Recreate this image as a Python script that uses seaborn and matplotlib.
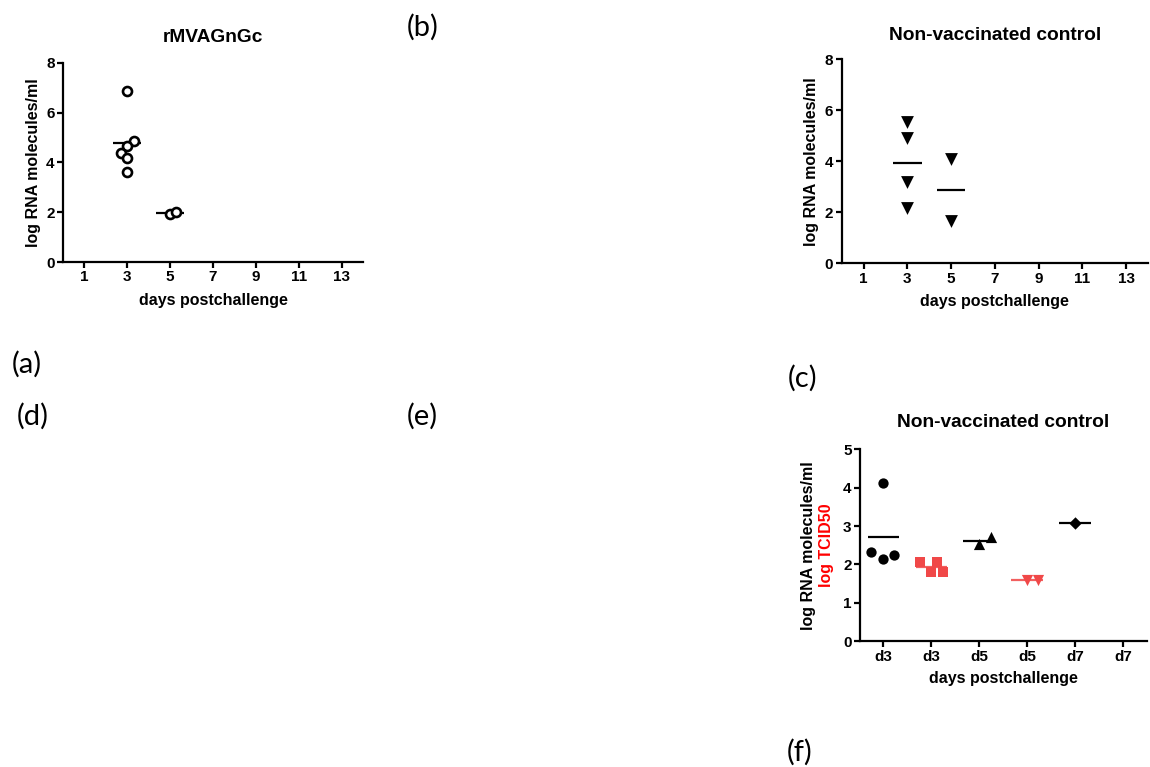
import matplotlib
matplotlib.use("Agg")
import matplotlib.pyplot as plt
import seaborn as sns
import numpy as np
import pandas as pd

sns.set_style("ticks")
plt.rcParams['font.family'] = ['Liberation Sans', 'DejaVu Sans']
plt.rcParams['font.weight'] = 'bold'
for key in ['text.color', 'axes.labelcolor', 'xtick.color', 'ytick.color', 'axes.edgecolor']:
    plt.rcParams[key] = 'black'

# panel (a) rMVAGnGc - open circles, x = day with the small spread seen in the picture
a_day = [3, 3, 3, 3, 3, 3, 5, 5]
a_x = [3.0, 3.3, 3.0, 2.7, 3.0, 3.0, 5.0, 5.28]
a_y = [6.88, 4.87, 4.67, 4.37, 4.19, 3.63, 1.93, 1.99]

# panel (c) non-vaccinated control - down triangles
c_day = [3, 3, 3, 3, 5, 5]
c_y = [5.55, 4.90, 3.20, 2.16, 4.08, 1.67]

# panel (f) non-vaccinated control, RNA (black) and TCID50 (red)
f_cats = ['d3', 'd3', 'd5', 'd5', 'd7', 'd7']
f_group = [0, 0, 0, 0, 1, 1, 1, 1, 2, 2, 3, 3, 4]
f_offset = [-0.26, 0.0, 0.0, 0.23, -0.23, 0.12, 0.0, 0.24, 0.0, 0.24, 0.0, 0.22, 0.0]
f_y = [2.33, 4.13, 2.14, 2.25, 2.07, 2.07, 1.81, 1.81, 2.53, 2.71, 1.60, 1.60, 3.07]

black = '#000000'
red = '#F04848'
f_style = {0: ('o', black, 55), 1: ('s', red, 55), 2: ('^', black, 65),
           3: ('v', red, 65), 4: ('D', black, 40)}

fig = plt.figure(figsize=(11.5, 7.67), dpi=100)

TICK = 11
LAB = 11.5
TITLE = 13.8


def style_axes(ax):
    sns.despine(ax=ax)
    ax.spines['left'].set_linewidth(1.6)
    ax.spines['bottom'].set_linewidth(1.6)
    ax.tick_params(width=1.6, length=4, labelsize=TICK, pad=2, colors='black')
    for lab in ax.get_xticklabels() + ax.get_yticklabels():
        lab.set_fontweight('bold')


def mean_lines(ax, xs, ys, half=0.65, color=black):
    d = pd.DataFrame({'x': xs, 'y': ys}).groupby('x')['y'].mean()
    ax.hlines(d.values, d.index - half, d.index + half, color=color, lw=1.6, zorder=1)


# (a)
ax_a = fig.add_axes([0.0548, 0.6584, 0.2609, 0.2595])
sns.scatterplot(x=a_x, y=a_y, marker='o', s=42, facecolor='white', edgecolor=black,
                linewidth=1.9, ax=ax_a, zorder=3)
mean_lines(ax_a, a_day, a_y)
ax_a.set_xlim(0, 14)
ax_a.set_ylim(0, 8)
ax_a.set_xticks([1, 3, 5, 7, 9, 11, 13])
ax_a.set_yticks([0, 2, 4, 6, 8])
ax_a.set_title('rMVAGnGc', fontsize=TITLE, fontweight='bold', pad=15)
ax_a.set_xlabel('days postchallenge', fontsize=LAB, fontweight='bold', labelpad=6)
ax_a.set_ylabel('log RNA molecules/ml', fontsize=LAB, fontweight='bold', labelpad=4)
style_axes(ax_a)

# (c)
ax_c = fig.add_axes([0.7319, 0.6567, 0.2664, 0.266])
sns.scatterplot(x=c_day, y=c_y, marker='v', s=85, color=black, edgecolor=black,
                linewidth=0, ax=ax_c, zorder=3)
mean_lines(ax_c, c_day, c_y)
ax_c.set_xlim(0, 14)
ax_c.set_ylim(0, 8)
ax_c.set_xticks([1, 3, 5, 7, 9, 11, 13])
ax_c.set_yticks([0, 2, 4, 6, 8])
ax_c.set_title('Non-vaccinated control', fontsize=TITLE, fontweight='bold', pad=14)
ax_c.set_xlabel('days postchallenge', fontsize=LAB, fontweight='bold', labelpad=6)
ax_c.set_ylabel('log RNA molecules/ml', fontsize=LAB, fontweight='bold', labelpad=4)
style_axes(ax_c)

# (f)
ax_f = fig.add_axes([0.7478, 0.1639, 0.2496, 0.2503])
fdf = pd.DataFrame({'g': f_group, 'x': np.array(f_group) + np.array(f_offset), 'y': f_y})
for g, sub in fdf.groupby('g'):
    mk, col, sz = f_style[g]
    sns.scatterplot(data=sub, x='x', y='y', marker=mk, s=sz, color=col, edgecolor=col,
                    linewidth=0, ax=ax_f, zorder=3)
    line_col = '#F26060' if col == red else black
    ax_f.hlines(sub['y'].mean(), g - 0.33, g + 0.33, color=line_col, lw=1.6, zorder=2)
ax_f.set_xlim(-0.49, 5.5)
ax_f.set_ylim(0, 5)
ax_f.set_xticks(range(len(f_cats)))
ax_f.set_xticklabels(f_cats)
ax_f.set_yticks([0, 1, 2, 3, 4, 5])
ax_f.set_title('Non-vaccinated control', fontsize=TITLE, fontweight='bold', pad=16)
ax_f.set_xlabel('days postchallenge', fontsize=LAB, fontweight='bold', labelpad=5)
ax_f.set_ylabel('')
style_axes(ax_f)
ax_f.text(-0.178, 0.5, 'log RNA molecules/ml', transform=ax_f.transAxes, rotation=90,
          ha='center', va='center', fontsize=LAB, fontweight='bold', color=black)
ax_f.text(-0.117, 0.5, 'log TCID50', transform=ax_f.transAxes, rotation=90,
          ha='center', va='center', fontsize=LAB, fontweight='bold', color='#FF0000')

# panel letters
letters = {'(a)': (27, 364), '(b)': (423, 27), '(c)': (803, 378),
           '(d)': (33, 416), '(e)': (422, 416), '(f)': (800, 752)}
for t, (px, py) in letters.items():
    fig.text(px / 1150, 1 - py / 767, t, ha='center', va='center', fontsize=21,
             family=['Lato', 'DejaVu Sans'], fontweight='normal', color='black')

fig.savefig('out.png', dpi=100)
